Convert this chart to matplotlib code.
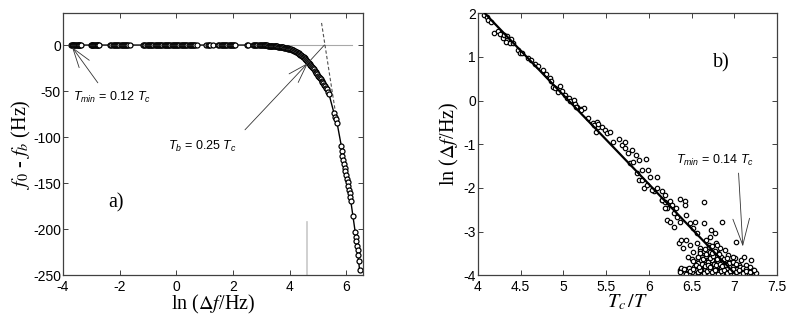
import matplotlib
matplotlib.use("Agg")
import matplotlib.pyplot as plt
from matplotlib.ticker import FormatStrFormatter

plt.rcParams['font.family'] = ['Liberation Sans', 'DejaVu Sans']
plt.rcParams['mathtext.fontset'] = 'custom'
plt.rcParams['mathtext.rm'] = 'Liberation Sans'
plt.rcParams['mathtext.it'] = 'Liberation Sans:italic'
plt.rcParams['axes.unicode_minus'] = False

# ---- panel a) : f0 - fb versus ln(df/Hz) ----
# flat part of the data (f0 - fb = 0)
flat_x = [-3.72, -3.69, -3.66, -3.63, -3.60, -3.57, -3.54, -3.51, -3.48,
          -3.45, -3.42, -3.39, -3.36,
          -3.02, -2.99, -2.96, -2.93, -2.90, -2.87, -2.84, -2.81, -2.78,
          -2.75, -2.72,
          -2.33, -2.29, -2.25, -2.21, -2.17, -2.13, -2.09, -2.05, -2.01,
          -1.97, -1.93, -1.89, -1.85, -1.81, -1.77, -1.73, -1.69, -1.65,
          -1.17, -1.13, -1.09, -1.05, -1.01, -0.97, -0.93, -0.89, -0.85,
          -0.81, -0.77, -0.73, -0.69, -0.65, -0.61, -0.57, -0.53, -0.49,
          -0.45, -0.41, -0.37, -0.33, -0.29, -0.25, -0.21, -0.17, -0.13,
          -0.09, -0.05, -0.01, 0.03, 0.07, 0.11, 0.15, 0.19, 0.23, 0.27,
          0.31, 0.35, 0.39, 0.43, 0.47, 0.51, 0.55, 0.59, 0.63, 0.67, 0.71,
          1.06, 1.10, 1.14, 1.18, 1.30, 1.48, 1.52, 1.56, 1.60, 1.64, 1.68,
          1.72, 1.76, 1.80, 1.84, 1.88, 1.92, 1.96, 2.00, 2.04, 2.08,
          2.50, 2.54, 2.70, 2.74, 2.78, 2.82, 2.86, 2.90, 2.94, 2.98]
flat_y = [0.0] * len(flat_x)

# bending part
bend_x = [3.02, 3.05, 3.08, 3.11, 3.14, 3.17, 3.20, 3.23, 3.26, 3.29,
          3.32, 3.35, 3.38, 3.41, 3.44, 3.47, 3.50, 3.53, 3.56, 3.59,
          3.62, 3.65, 3.68, 3.71, 3.74, 3.77, 3.80, 3.83, 3.86, 3.89,
          3.92, 3.95, 3.98, 4.01, 4.04, 4.07, 4.10, 4.13, 4.16, 4.19,
          4.22, 4.25, 4.28, 4.31, 4.34, 4.37, 4.40, 4.43, 4.46, 4.49,
          4.52, 4.55, 4.58, 4.61, 4.64, 4.67, 4.70, 4.73, 4.76, 4.79,
          4.82, 4.85, 4.88, 4.91, 4.94, 4.97, 5.00, 5.03, 5.06, 5.09,
          5.12, 5.15, 5.18, 5.21, 5.24, 5.27, 5.30, 5.35, 5.38,
          5.56, 5.58, 5.62, 5.67, 5.82, 5.84, 5.85, 5.87, 5.90, 5.93,
          5.96, 5.99, 6.02, 6.05, 6.07, 6.09, 6.11, 6.13, 6.15, 6.23,
          6.31, 6.33, 6.35, 6.37, 6.39, 6.41, 6.43, 6.46]
bend_y = [-0.2, -0.25, -0.3, -0.3, -0.35, -0.4, -0.45, -0.5, -0.5, -0.6,
          -0.65, -0.7, -0.8, -0.9, -1.0, -1.1, -1.2, -1.35, -1.5, -1.65,
          -1.8, -1.95, -2.1, -2.25, -2.4, -2.6, -2.8, -3.0, -3.2, -3.45,
          -3.7, -3.95, -4.2, -4.5, -4.8, -5.15, -5.5, -5.9, -6.3, -6.75,
          -7.2, -7.75, -8.3, -8.9, -9.5, -10.25, -11.0, -11.8, -12.6, -13.45,
          -14.3, -15.25, -16.2, -17.25, -18.3, -19.35, -20.4, -21.55, -22.7, -23.95,
          -25.2, -26.5, -27.8, -29.15, -30.5, -31.85, -33.2, -34.5, -35.8, -37.15,
          -38.5, -40.0, -41.5, -43.0, -44.5, -46.2, -48.0, -51.5, -53.0,
          -74, -78, -80, -85, -110, -115, -120, -125, -129, -133,
          -137, -141, -145, -149, -153, -157, -161, -165, -169, -186,
          -203, -208, -213, -218, -223, -228, -235, -244]

tangent_x = [5.12, 5.66]
tangent_y = [24, -83]
ref_x = [2.5, 6.18]
ref_y = [0, 0]
vline_x = 4.62
vline_y = [-250, -192]

# ---- panel b) : ln(df/Hz) versus Tc/T ----
scat_x = [
    # upper part, along the fit
    4.07, 4.10, 4.12, 4.15, 4.19, 4.24, 4.26, 4.29, 4.31, 4.34, 4.33, 4.37,
    4.41, 4.39, 4.47, 4.49, 4.51, 4.58, 4.62, 4.67, 4.70, 4.76, 4.80, 4.84,
    4.86, 4.88, 4.90, 4.94, 4.96, 4.98, 5.02, 5.04, 5.06, 5.08, 5.12, 5.14,
    5.16, 5.21, 5.24, 5.29, 5.35, 5.39, 5.41,
    # middle part
    5.15, 5.21, 5.36, 5.38, 5.40, 5.45, 5.49, 5.51, 5.55, 5.58, 5.65, 5.68,
    5.72, 5.72, 5.76, 5.80, 5.78, 5.82, 5.85, 5.88, 5.86, 5.92, 5.97, 5.99,
    5.88, 5.92, 5.94, 5.98, 6.01, 6.10, 6.06, 6.10, 6.15, 6.19, 6.15, 6.19,
    6.25, 6.32, 6.21, 6.42, 6.42, 6.64, 6.04,
    # lower part, scattered
    6.15, 6.19, 6.27, 6.36, 6.29, 6.21, 6.25, 6.33, 6.29, 6.37, 6.44, 6.48,
    6.52, 6.54, 6.64, 6.44, 6.48, 6.40, 6.52, 6.46, 6.56, 6.60, 6.58, 6.62,
    6.67, 6.71, 6.73, 6.77, 6.79, 6.83, 6.77, 6.89, 6.93, 6.69, 6.65, 6.73,
    6.79, 6.87, 7.01, 7.02, 7.08, 7.06, 7.14, 6.56, 6.35, 6.38, 6.86, 7.11,
    7.19, 6.50, 6.54, 6.60, 6.63, 6.68, 6.70, 6.74, 6.81, 6.84, 6.91, 6.96,
    6.99, 7.04,
    # bottom rows
    6.36, 6.39, 6.42, 6.45, 6.50, 6.55, 6.58, 6.62, 6.66, 6.70, 6.73, 6.76,
    6.80, 6.83, 6.86, 6.90, 6.93, 6.97, 7.00, 7.04, 7.08, 7.12, 7.16, 7.20,
    7.25, 6.38, 6.47, 6.53, 6.60, 6.64, 6.68, 6.72, 6.75, 6.78, 6.82, 6.85,
    6.88, 6.92, 6.95, 6.99, 7.03, 7.07, 7.10, 7.14, 7.18, 7.22,
    6.52, 6.57, 6.61, 6.65, 6.69, 6.74, 6.78, 6.81, 6.85, 6.89, 6.94, 6.98,
    7.02, 6.58, 6.63, 6.67, 6.71, 6.75, 6.80, 6.84, 6.88, 6.92,
    6.37, 6.41, 6.44, 6.48, 6.52, 6.57, 6.60, 6.64, 6.68, 6.71, 6.74, 6.78,
    6.81, 6.85, 6.88, 6.91, 6.95, 6.98, 7.02, 7.06, 7.10, 7.14, 7.18, 7.23,
    6.55, 6.59, 6.62, 6.66, 6.69, 6.72, 6.76, 6.79, 6.83, 6.86, 6.90,
    6.60, 6.64, 6.67, 6.71, 6.74, 6.78, 6.82, 6.70, 6.74, 6.66, 6.80]
scat_y = [
    1.96, 1.92, 1.85, 1.79, 1.54, 1.60, 1.53, 1.43, 1.50, 1.47, 1.35, 1.31,
    1.31, 1.42, 1.16, 1.08, 1.09, 0.97, 0.92, 0.85, 0.80, 0.69, 0.60, 0.51,
    0.45, 0.32, 0.28, 0.20, 0.34, 0.22, 0.13, 0.05, 0.06, 0.00, 0.01, -0.08,
    -0.15, -0.20, -0.18, -0.40, -0.52, -0.49, -0.60,
    -0.14, -0.21, -0.56, -0.71, -0.53, -0.60, -0.68, -0.75, -0.71, -0.94, -0.89, -1.02,
    -0.94, -1.09, -1.21, -1.13, -1.43, -1.40, -1.25, -1.37, -1.65, -1.58, -1.34, -1.60,
    -1.82, -1.82, -1.99, -1.93, -1.76, -1.76, -2.06, -1.99, -2.08, -2.15, -2.27, -2.33,
    -2.29, -2.47, -2.47, -2.31, -2.39, -2.33, -2.04,
    -2.27, -2.47, -2.38, -2.26, -2.58, -2.73, -2.77, -2.66, -2.89, -2.77, -2.62, -2.80,
    -2.92, -2.77, -2.81, -3.19, -3.31, -3.38, -3.46, -3.57, -3.27, -3.38, -3.57, -3.50,
    -3.19, -3.12, -2.96, -3.04, -3.27, -3.38, -3.46, -3.42, -3.53, -3.60, -3.68, -3.68,
    -3.64, -3.64, -3.61, -3.23, -3.64, -3.76, -3.76, -3.04, -3.27, -3.19, -2.77, -3.57,
    -3.65, -3.62, -3.70, -3.45, -3.74, -3.55, -3.30, -3.72, -3.50, -3.70, -3.78, -3.70,
    -3.58, -3.80,
    -3.88, -3.95, -3.90, -3.86, -3.93, -3.88, -3.96, -3.90, -3.85, -3.94, -3.89, -3.96,
    -3.91, -3.86, -3.95, -3.89, -3.93, -3.87, -3.96, -3.90, -3.86, -3.94, -3.88, -3.92,
    -3.95, -3.84, -3.83, -3.80, -3.82, -3.78, -3.82, -3.79, -3.84, -3.81, -3.78, -3.83,
    -3.80, -3.84, -3.79, -3.82, -3.85, -3.80, -3.83, -3.86, -3.82, -3.87,
    -3.68, -3.72, -3.66, -3.74, -3.70, -3.65, -3.73, -3.68, -3.71, -3.66, -3.72, -3.69,
    -3.74, -3.58, -3.62, -3.56, -3.60, -3.55, -3.62, -3.58, -3.63, -3.60,
    -3.92, -3.86, -3.96, -3.91, -3.86, -3.93, -3.88, -3.95, -3.90, -3.86, -3.93, -3.89,
    -3.96, -3.91, -3.87, -3.94, -3.90, -3.85, -3.92, -3.88, -3.95, -3.90, -3.93, -3.89,
    -3.76, -3.80, -3.74, -3.78, -3.76, -3.80, -3.75, -3.77, -3.74, -3.78, -3.76,
    -3.48, -3.44, -3.52, -3.46, -3.50, -3.45, -3.52, -3.36, -3.32, -3.40, -3.30]

fit_x = [4.08, 7.00]
fit_y = [2.00, -3.95]

fig = plt.figure(figsize=(7.89, 3.21), dpi=100)
ax1 = fig.add_axes([0.0798, 0.1424, 0.3802, 0.8162])
ax2 = fig.add_axes([0.6058, 0.1424, 0.3790, 0.8162])

spine_col = '#404040'
serif = ['Liberation Serif', 'DejaVu Serif']

# panel a
ax1.plot(ref_x, ref_y, color='#a8a8a8', lw=0.8, zorder=1)
ax1.plot([vline_x, vline_x], vline_y, color='#c8c8c8', lw=1.2, zorder=1)
ax1.plot(tangent_x, tangent_y, color='#505050', lw=0.8, dashes=(3, 2), zorder=1)
ax1.plot(flat_x + bend_x, flat_y + bend_y, color='black', lw=1.0,
         marker='o', ms=3.6, mfc='white', mec='black', mew=0.9, zorder=2)

arrow_kw = dict(lw=0.6, color='#333333', shrinkA=0, shrinkB=0)
ax1.annotate('', xy=(-3.68, -2.2), xytext=(-2.77, -41),
             arrowprops=dict(arrowstyle='->,head_length=1.4,head_width=0.45',
                             mutation_scale=10, **arrow_kw))
ax1.text(-3.65, -56.5, r'$T_{min}$ = 0.12 $T_c$', fontsize=9, ha='left', va='center')
ax1.annotate('', xy=(4.64, -19.5), xytext=(2.42, -92),
             arrowprops=dict(arrowstyle='->,head_length=1.4,head_width=0.45',
                             mutation_scale=10, **arrow_kw))
ax1.plot([4.64, 5.22], [-19.5, 0], color='#333333', lw=0.6)
ax1.text(-0.30, -110.5, r'$T_b$ = 0.25 $T_c$', fontsize=9, ha='left', va='center')
ax1.text(-2.42, -171.5, 'a)', fontsize=14.5, family=serif, ha='left', va='center')

ax1.set_xlim(-4, 6.58)
ax1.set_ylim(-250, 34.5)
ax1.set_xticks([-4, -2, 0, 2, 4, 6])
ax1.set_yticks([-250, -200, -150, -100, -50, 0])
ax1.set_xlabel(r'ln ($\mathit{\Delta f}$/Hz)', fontsize=14.5, family=serif,
               math_fontfamily='stix', labelpad=-1)
ax1.set_ylabel(r'$f_0$ - $f_b$ (Hz)', fontsize=14.5, family=serif,
               math_fontfamily='stix', labelpad=0)

# panel b
ax2.plot(scat_x, scat_y, ls='none', marker='o', ms=3.2, mfc='white',
         mec='black', mew=0.85, zorder=2)
ax2.plot(fit_x, fit_y, color='black', lw=1.6, zorder=3)
ax2.annotate('', xy=(7.10, -3.34), xytext=(7.05, -1.66),
             arrowprops=dict(arrowstyle='->,head_length=1.9,head_width=0.6',
                             mutation_scale=10, **arrow_kw))
ax2.text(6.32, -1.36, r'$T_{min}$ = 0.14 $T_c$', fontsize=9, ha='left', va='center')
ax2.text(6.75, 0.86, 'b)', fontsize=14.5, family=serif, ha='left', va='center')

ax2.set_xlim(4, 7.5)
ax2.set_ylim(-4, 2)
ax2.set_xticks([4, 4.5, 5, 5.5, 6, 6.5, 7, 7.5])
ax2.xaxis.set_major_formatter(FormatStrFormatter('%g'))
ax2.set_yticks([-4, -3, -2, -1, 0, 1, 2])
ax2.set_xlabel(r'$T_c\,/T$', fontsize=14.5, family=serif,
               math_fontfamily='stix', labelpad=-1)
ax2.set_ylabel(r'ln ($\mathit{\Delta f}$/Hz)', fontsize=14.5, family=serif,
               math_fontfamily='stix', labelpad=2)

for ax in (ax1, ax2):
    ax.tick_params(direction='in', top=True, right=True, length=3.5,
                   width=0.7, color=spine_col, labelsize=10)
    ax.tick_params(axis='x', pad=3.5)
    ax.tick_params(axis='y', pad=1.5)
    for sp in ax.spines.values():
        sp.set_color(spine_col)
        sp.set_linewidth(0.9)

fig.savefig('out.png', dpi=100)
